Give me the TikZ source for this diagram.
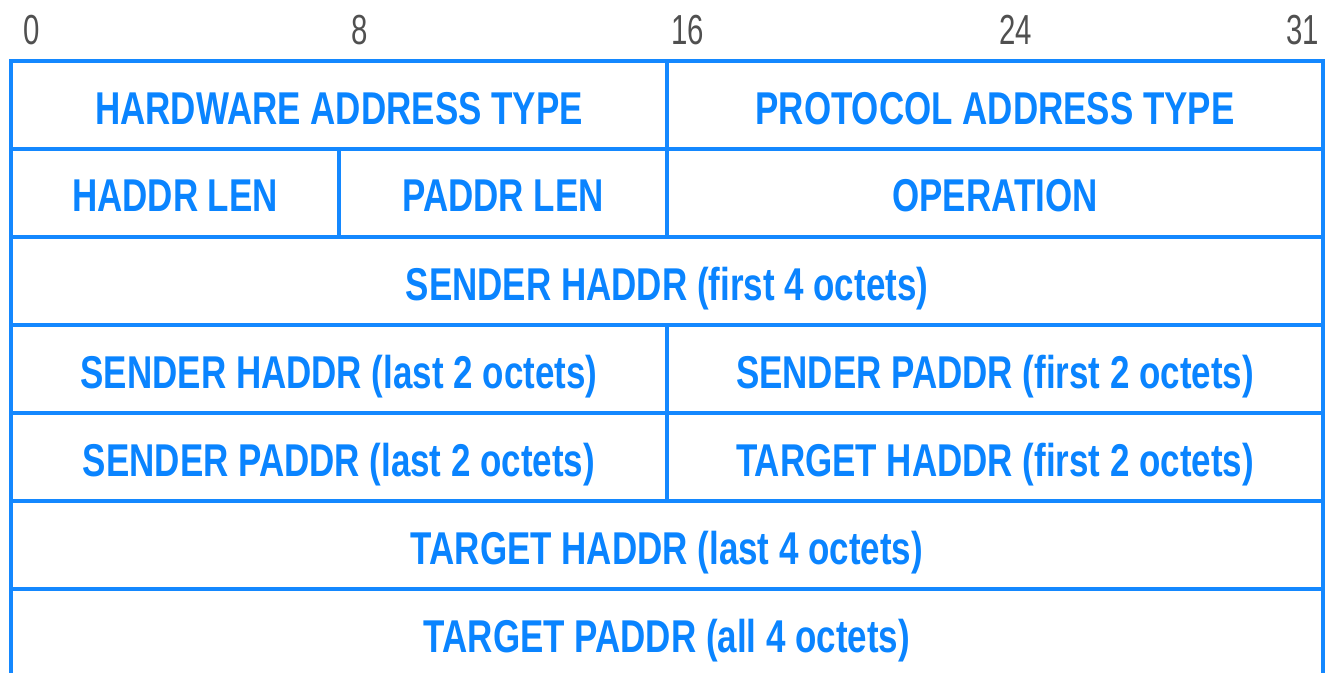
\documentclass[tikz,border=0pt]{standalone}
\usepackage{fontspec}
\setmainfont{Liberation Sans}
\newfontfamily\fieldfont[FakeStretch=0.76]{Liberation Sans}
\newfontfamily\bitfont[FakeStretch=0.7]{Liberation Sans}
\definecolor{arpblue}{RGB}{10,132,255}
\definecolor{arpline}{RGB}{20,136,255}
\definecolor{bitgray}{RGB}{80,80,80}
\begin{document}
\begin{tikzpicture}[x=0.5pt,y=-0.5pt,
    field/.style={anchor=base, inner sep=0pt, text=arpblue,
      font=\fieldfont\bfseries\fontsize{23}{26}\selectfont},
    bitnum/.style={anchor=base, inner sep=0pt, text=bitgray,
      font=\bitfont\fontsize{21}{24}\selectfont},
    frameline/.style={draw=arpline, line width=1.9pt}]
  \useasboundingbox (0,0) rectangle (1325,673);
  % bit numbers above the header
  \foreach \b/\n in {0/bit0,8/bit8,16/bit16,24/bit24,31/bit31}
    \node[bitnum] (\n) at ({31.5+41*\b},45) {\b};
  % outer frame, open at the bottom
  \draw[frameline] (11,673) -- (11,61) -- (1323,61) -- (1323,673);
  \foreach \y in {149,237,325,413,501,589}
    \draw[frameline] (11,\y) -- (1323,\y);
  % field separators
  \foreach \x/\ya/\yb in {667/61/149,339/149/237,667/149/237,667/325/413,667/413/501}
    \draw[frameline] (\x,\ya) -- (\x,\yb);
  % field names
  \foreach \n/\xc/\yb/\t in {
      hwtype/339/125/HARDWARE ADDRESS TYPE,
      prtype/995/125/PROTOCOL ADDRESS TYPE,
      hlen/175/212/HADDR LEN,
      plen/503/212/PADDR LEN,
      oper/995/212/OPERATION,
      shaddrA/667/300/SENDER HADDR (first 4 octets),
      shaddrB/339/388/SENDER HADDR (last 2 octets),
      spaddrA/995/388/SENDER PADDR (first 2 octets),
      spaddrB/339/476/SENDER PADDR (last 2 octets),
      thaddrA/995/476/TARGET HADDR (first 2 octets),
      thaddrB/667/564/TARGET HADDR (last 4 octets),
      tpaddr/667/652/TARGET PADDR (all 4 octets)}
    \node[field] (\n) at (\xc,\yb) {\t};
\end{tikzpicture}
\end{document}
